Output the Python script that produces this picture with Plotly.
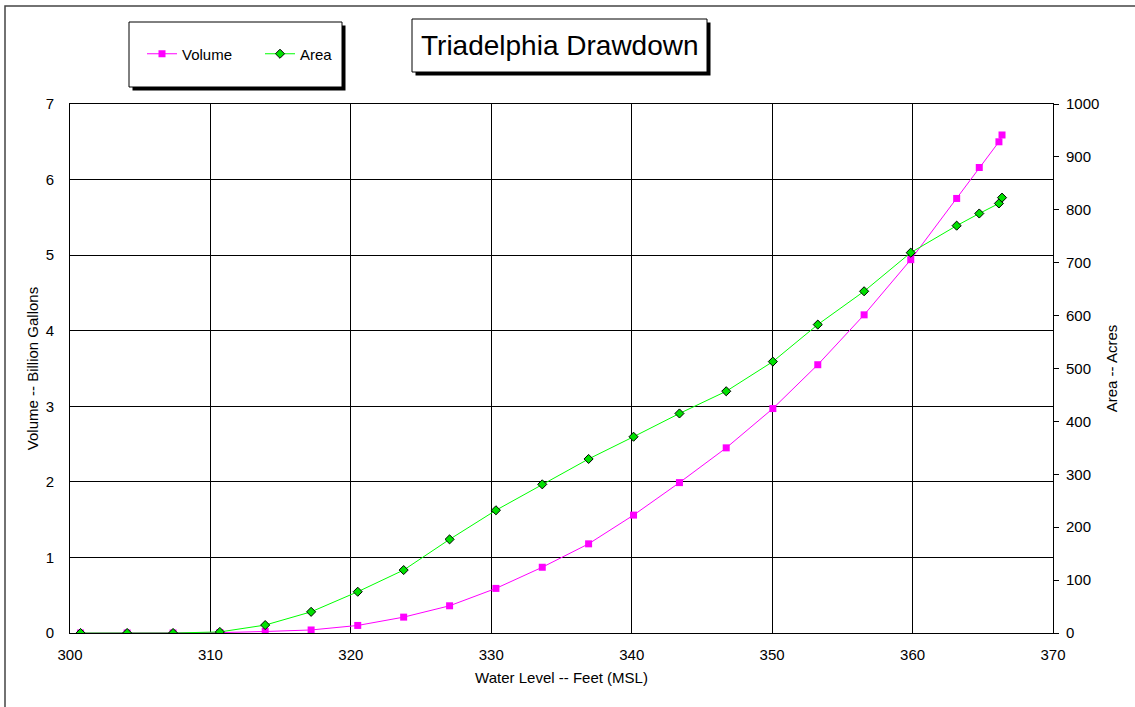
import plotly.graph_objects as go

# ---- data ----
water_level = [300.75, 304.07, 307.34, 310.67, 313.90, 317.17, 320.49, 323.76,
               327.03, 330.33, 333.63, 336.93, 340.13, 343.40, 346.73, 350.05,
               353.25, 356.55, 359.87, 363.14, 364.75, 366.15, 366.37]
volume_bgal = [0.0, 0.0, 0.0, 0.005, 0.02, 0.04, 0.10, 0.21, 0.36, 0.59, 0.87,
               1.18, 1.56, 1.99, 2.45, 2.97, 3.55, 4.21, 4.94, 5.75, 6.16,
               6.50, 6.59]
area_acres = [0, 0, 0, 2, 15, 40, 78, 119, 177, 232, 281, 329, 371, 415, 457,
              513, 583, 646, 719, 770, 793, 812, 823]

x_ticks = [300, 310, 320, 330, 340, 350, 360, 370]
title_text = "Triadelphia Drawdown"

W, H = 1135, 707
ML, MR, MT, MB = 70, 82, 104, 74
PW, PH = W - ML - MR, H - MT - MB
FONT = "Liberation Sans, Arial, sans-serif"


def px(xp):
    return (xp - ML) / PW


def py(yp):
    return (H - MB - yp) / PH


fig = go.Figure()
fig.add_trace(go.Scatter(
    x=water_level, y=volume_bgal, name="Volume", mode="lines+markers",
    line=dict(color="#FF00FF", width=1),
    marker=dict(symbol="square", size=7, color="#FF00FF",
                line=dict(color="#FF00FF", width=0)),
    yaxis="y"))
fig.add_trace(go.Scatter(
    x=water_level, y=area_acres, name="Area", mode="lines+markers",
    line=dict(color="#00FF00", width=1),
    marker=dict(symbol="diamond", size=7, color="#00E000",
                line=dict(color="black", width=1)),
    yaxis="y2"))

shapes = []
# outer frame
shapes.append(dict(type="rect", xref="paper", yref="paper",
                   x0=px(5), x1=px(1145), y0=py(715), y1=py(6),
                   line=dict(color="#444", width=1.5), layer="below"))


def shadow_box(x0, y0, x1, y1, off=3.5):
    return [
        dict(type="rect", xref="paper", yref="paper",
             x0=px(x0 + off), x1=px(x1 + off), y0=py(y1 + off), y1=py(y0 + off),
             fillcolor="black", line=dict(color="black", width=0), layer="above"),
        dict(type="rect", xref="paper", yref="paper",
             x0=px(x0), x1=px(x1), y0=py(y1), y1=py(y0),
             fillcolor="white", line=dict(color="black", width=1), layer="above"),
    ]


shapes += shadow_box(129, 22, 342, 87)
shapes += shadow_box(412, 19, 707, 72)

fig.update_layout(
    width=W, height=H,
    margin=dict(l=ML, r=MR, t=MT, b=MB, pad=0),
    paper_bgcolor="white", plot_bgcolor="white",
    font=dict(family=FONT, size=15, color="black"),
    shapes=shapes,
    annotations=[dict(text=title_text, xref="paper", yref="paper",
                      x=px(559.5), y=py(45.5), xanchor="center", yanchor="middle",
                      showarrow=False, font=dict(size=28, family=FONT, color="black"))],
    showlegend=True,
    legend=dict(orientation="h", x=px(142), y=py(54), xanchor="left", yanchor="middle",
                bgcolor="rgba(0,0,0,0)", borderwidth=0,
                entrywidth=73, entrywidthmode="pixels",
                font=dict(size=15, family=FONT)),
    xaxis=dict(range=[300, 370], tickvals=x_ticks, ticks="", showgrid=True,
               gridcolor="black", gridwidth=1, showline=True, linecolor="black",
               linewidth=1, mirror=True, zeroline=False, ticklabelstandoff=8,
               title=dict(text="Water Level -- Feet (MSL)", standoff=10,
                          font=dict(size=15))),
    yaxis=dict(range=[0, 7], dtick=1, ticks="", showgrid=True, gridcolor="black",
               gridwidth=1, showline=True, linecolor="black", linewidth=1,
               zeroline=False, ticklabelstandoff=12,
               title=dict(text="Volume -- Billion Gallons", standoff=3,
                          font=dict(size=15))),
    yaxis2=dict(range=[0, 1000], dtick=100, overlaying="y", side="right",
                ticks="outside", ticklen=5, tickcolor="black", showgrid=False,
                showline=True, linecolor="black", linewidth=1, zeroline=False,
                ticklabelstandoff=4,
                title=dict(text="Area -- Acres", standoff=8, font=dict(size=15))),
)

fig.write_html("out.html",
               config={"displayModeBar": False},
               post_script="document.body.style.margin='0';"
                           "document.body.style.overflow='hidden';")
